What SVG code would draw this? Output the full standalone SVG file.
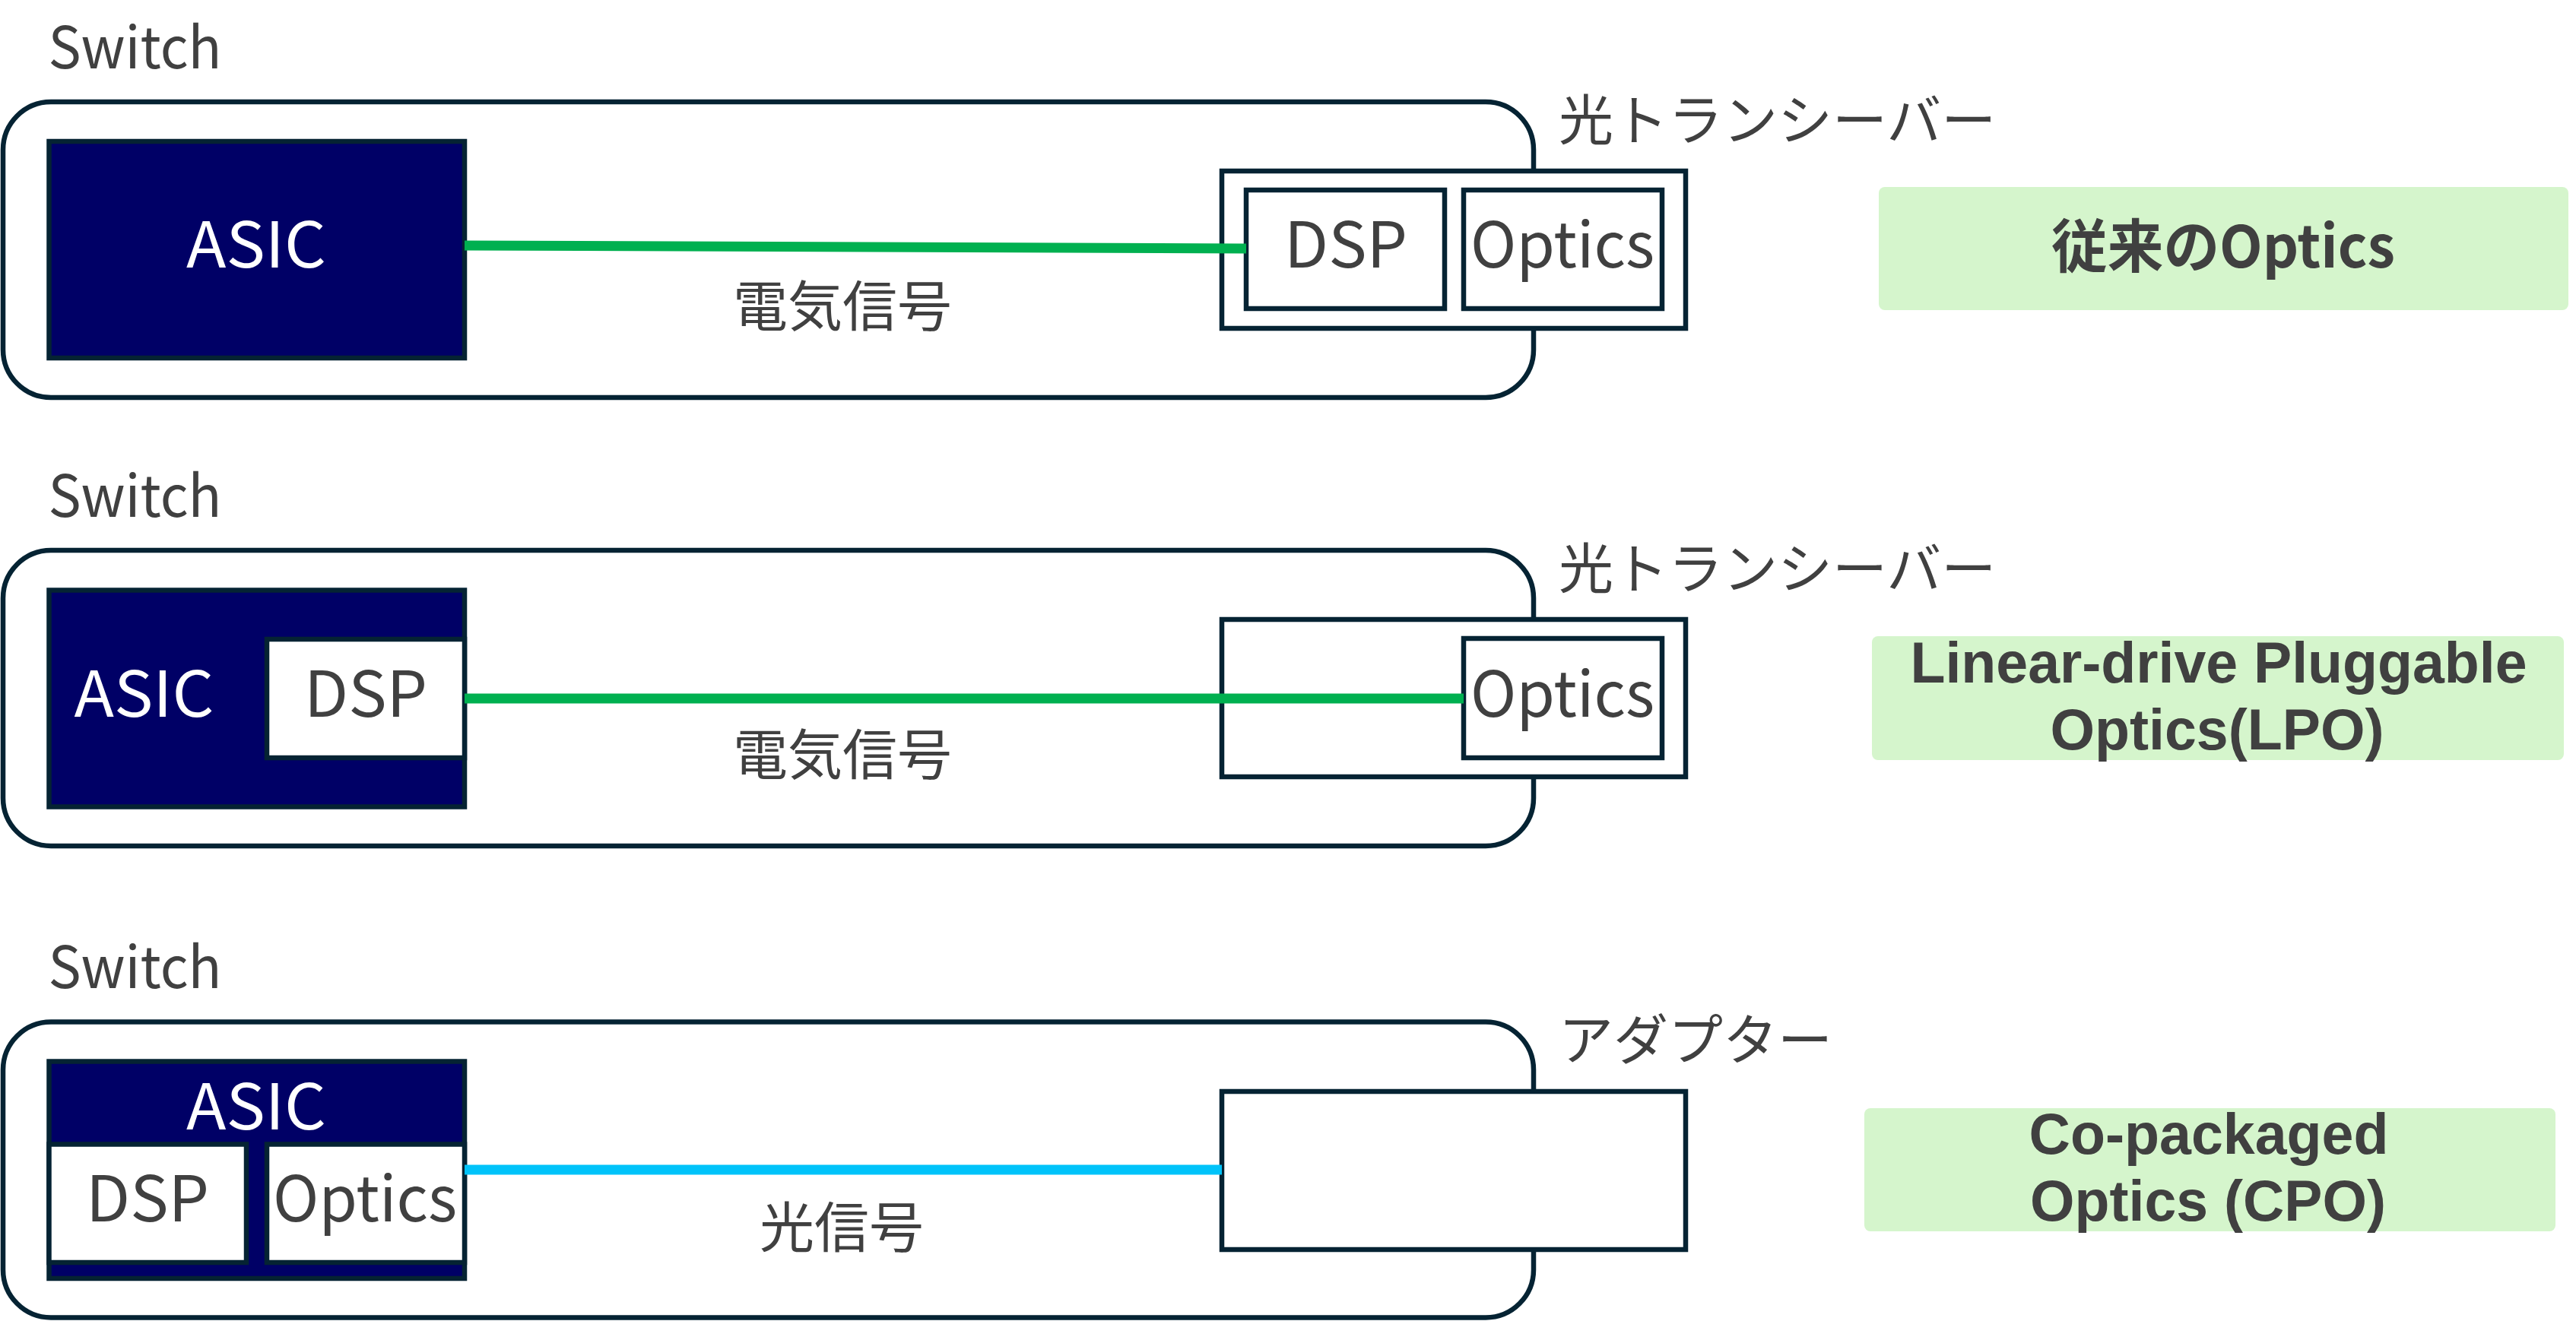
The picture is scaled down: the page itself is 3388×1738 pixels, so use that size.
<svg xmlns="http://www.w3.org/2000/svg" width="3388" height="1738" viewBox="0 0 3388 1738">
<style>
.bg{fill:#ffffff}
.sw{fill:#ffffff;stroke:#052333;stroke-width:6.5}
.asic{fill:#000066;stroke:#052333;stroke-width:6.5}
.box{fill:#ffffff;stroke:#052333;stroke-width:6.5}
.lbl{fill:#D5F5CC}
.t{font-family:"Noto Sans CJK JP","Noto Sans",sans-serif;fill:#404040}
.l{font-family:"Liberation Sans","Noto Sans",sans-serif;fill:#404040}
.w{fill:#ffffff}
.sm{font-size:76px}
.md{font-size:83px}
.jp{font-size:72px;dominant-baseline:central}
.b{font-weight:700;font-size:76px}
.e{stroke:#00B050;stroke-width:13;fill:none}
.o{stroke:#00C3FA;stroke-width:13;fill:none}
</style>
<rect class="bg" x="0" y="0" width="3388" height="1738"/>

<!-- Panel 1: conventional optics -->
<g id="switch1">
  <text class="t sm" x="177.5" y="90" text-anchor="middle" textLength="228" lengthAdjust="spacingAndGlyphs">Switch</text>
  <rect class="sw" x="4" y="134" width="2013" height="389" rx="63"/>
</g>
<g id="asic1">
  <rect class="asic" x="64.5" y="186" width="546.5" height="285"/>
  <text class="t md w" x="337" y="352" text-anchor="middle" textLength="184" lengthAdjust="spacingAndGlyphs">ASIC</text>
</g>
<g id="transceiver1">
  <text class="t jp" x="2050" y="152">光トランシーバー</text>
  <rect class="box" x="1607" y="225" width="610" height="207"/>
</g>
<g id="dsp1">
  <rect class="box" x="1639" y="250" width="261" height="156"/>
  <text class="t md" x="1770" y="352" text-anchor="middle" textLength="162" lengthAdjust="spacingAndGlyphs">DSP</text>
</g>
<g id="optics1">
  <rect class="box" x="1925" y="250" width="261" height="156"/>
  <text class="t md" x="2055" y="352" text-anchor="middle" textLength="242" lengthAdjust="spacingAndGlyphs">Optics</text>
</g>
<g id="label1">
  <rect class="lbl" x="2471" y="246" width="907" height="162" rx="8"/>
  <text class="t b" x="2924" y="352" text-anchor="middle" textLength="452" lengthAdjust="spacingAndGlyphs">従来のOptics</text>
</g>

<!-- Panel 2: LPO -->
<g id="switch2">
  <text class="t sm" x="177.5" y="680" text-anchor="middle" textLength="228" lengthAdjust="spacingAndGlyphs">Switch</text>
  <rect class="sw" x="4" y="724" width="2013" height="389" rx="63"/>
</g>
<g id="asic2">
  <rect class="asic" x="64.5" y="776.5" width="546.5" height="285"/>
  <text class="t md w" x="189.5" y="943" text-anchor="middle" textLength="184" lengthAdjust="spacingAndGlyphs">ASIC</text>
</g>
<g id="dsp2">
  <rect class="box" x="351" y="841" width="260" height="156"/>
  <text class="t md" x="481" y="943" text-anchor="middle" textLength="162" lengthAdjust="spacingAndGlyphs">DSP</text>
</g>
<g id="transceiver2">
  <text class="t jp" x="2050" y="742">光トランシーバー</text>
  <rect class="box" x="1607" y="815" width="610" height="207"/>
</g>
<g id="optics2">
  <rect class="box" x="1925" y="840" width="261" height="157"/>
  <text class="t md" x="2055" y="943" text-anchor="middle" textLength="242" lengthAdjust="spacingAndGlyphs">Optics</text>
</g>
<g id="label2">
  <rect class="lbl" x="2462" y="837" width="910" height="163" rx="8"/>
  <text class="l b" text-anchor="middle"><tspan x="2918" y="898" textLength="811" lengthAdjust="spacingAndGlyphs">Linear-drive Pluggable</tspan><tspan x="2916" y="986" textLength="439" lengthAdjust="spacingAndGlyphs">Optics(LPO)</tspan></text>
</g>

<!-- Panel 3: CPO -->
<g id="switch3">
  <text class="t sm" x="177.5" y="1300" text-anchor="middle" textLength="228" lengthAdjust="spacingAndGlyphs">Switch</text>
  <rect class="sw" x="4" y="1344.5" width="2013" height="389" rx="63"/>
</g>
<g id="asic3">
  <rect class="asic" x="64.5" y="1396.5" width="546.5" height="285.5"/>
  <text class="t md w" x="337" y="1486" text-anchor="middle" textLength="184" lengthAdjust="spacingAndGlyphs">ASIC</text>
</g>
<g id="dsp3">
  <rect class="box" x="64.5" y="1505.5" width="259.5" height="155.5"/>
  <text class="t md" x="194" y="1607" text-anchor="middle" textLength="162" lengthAdjust="spacingAndGlyphs">DSP</text>
</g>
<g id="optics3">
  <rect class="box" x="351" y="1505.5" width="260" height="155.5"/>
  <text class="t md" x="480" y="1607" text-anchor="middle" textLength="242" lengthAdjust="spacingAndGlyphs">Optics</text>
</g>
<g id="adapter3">
  <text class="t jp" x="2050" y="1362">アダプター</text>
  <rect class="box" x="1607" y="1436" width="610" height="208"/>
</g>
<g id="label3">
  <rect class="lbl" x="2452" y="1458" width="909" height="162" rx="8"/>
  <text class="l b" text-anchor="middle"><tspan x="2905" y="1518" textLength="473" lengthAdjust="spacingAndGlyphs">Co-packaged</tspan><tspan x="2904" y="1606" textLength="468" lengthAdjust="spacingAndGlyphs">Optics (CPO)</tspan></text>
</g>

<!-- Connectors -->
<g id="connectors">
  <line class="e" x1="611" y1="323" x2="1639" y2="327"/>
  <text class="t jp" x="1108" y="397" text-anchor="middle">電気信号</text>
  <line class="e" x1="611" y1="919" x2="1925" y2="919"/>
  <text class="t jp" x="1108" y="987" text-anchor="middle">電気信号</text>
  <line class="o" x1="611" y1="1539" x2="1607" y2="1539"/>
  <text class="t jp" x="1107" y="1609" text-anchor="middle">光信号</text>
</g>
</svg>
